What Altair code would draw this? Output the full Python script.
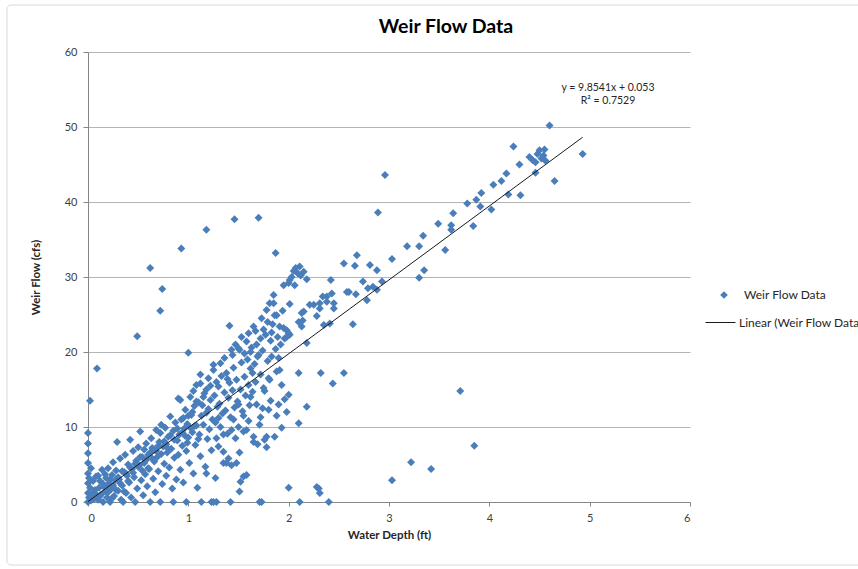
import altair as alt
import pandas as pd

# Weir readings as (water depth ft, weir flow cfs)
zero_col = [
    (0.00, 0.0), (0.00, 1.2), (0.00, 2.5), (0.00, 3.8), (0.00, 5.2), (0.00, 6.5),
    (0.00, 7.8), (0.00, 9.2), (0.01, 0.6), (0.01, 3.2), (0.02, 1.9), (0.02, 13.5),
    (0.03, 0.2), (0.03, 4.5), (0.04, 1.1), (0.05, 2.8), (0.06, 0.4), (0.07, 1.6),
    (0.08, 3.4), (0.09, 17.8), (0.09, 0.9),
]

low = [
    (0.10, 0.3), (0.10, 3.5), (0.11, 1.9), (0.12, 2.8), (0.12, 0.8), (0.13, 1.0),
    (0.14, 4.3), (0.15, 0.0), (0.15, 2.4), (0.16, 2.0), (0.17, 1.4), (0.17, 3.7),
    (0.18, 3.2), (0.19, 0.6), (0.19, 2.1), (0.20, 4.5), (0.20, 1.3), (0.21, 2.5),
    (0.22, 0.0), (0.22, 3.0), (0.23, 1.7), (0.24, 3.6), (0.24, 0.5), (0.25, 5.3),
    (0.25, 2.2), (0.26, 0.8), (0.27, 2.9), (0.28, 4.2), (0.28, 1.6), (0.29, 8.0),
    (0.30, 1.5), (0.30, 3.3), (0.31, 3.0), (0.32, 5.8), (0.32, 2.5), (0.33, 0.3),
    (0.34, 2.2), (0.34, 4.1), (0.35, 0.0), (0.36, 4.0), (0.36, 1.4), (0.37, 6.3),
    (0.38, 1.2), (0.38, 3.8), (0.39, 3.5), (0.40, 5.0), (0.40, 2.8), (0.41, 2.6),
    (0.42, 8.3), (0.42, 4.6), (0.43, 0.6), (0.44, 4.4), (0.45, 6.8), (0.45, 3.9),
    (0.46, 3.3), (0.47, 0.0), (0.47, 5.1), (0.48, 5.5), (0.49, 1.8), (0.49, 22.1),
    (0.50, 7.3), (0.50, 4.7), (0.51, 4.9), (0.52, 9.4), (0.52, 6.0), (0.53, 2.9),
    (0.54, 6.0), (0.54, 4.2), (0.55, 0.9), (0.56, 5.2), (0.56, 7.0), (0.57, 3.7),
    (0.58, 7.8), (0.58, 5.6), (0.59, 2.1), (0.60, 6.3), (0.60, 4.5), (0.61, 4.4),
    (0.62, 0.0), (0.62, 31.2), (0.62, 6.6), (0.63, 8.5), (0.64, 5.8), (0.64, 7.2),
    (0.65, 3.1), (0.66, 7.0), (0.66, 5.4), (0.67, 1.3), (0.68, 9.6), (0.68, 6.8),
    (0.69, 6.0), (0.70, 4.1), (0.70, 7.5), (0.71, 8.0), (0.72, 0.0), (0.72, 9.2),
    (0.72, 25.5), (0.73, 10.3), (0.73, 6.4), (0.74, 2.4), (0.74, 28.4), (0.75, 7.4),
    (0.76, 5.1), (0.76, 8.1), (0.77, 9.9), (0.78, 3.5), (0.78, 7.7), (0.79, 6.6),
    (0.80, 8.7), (0.80, 7.1), (0.81, 4.6), (0.82, 11.4), (0.82, 8.9), (0.83, 7.1),
    (0.84, 1.8), (0.85, 0.0), (0.85, 9.5), (0.86, 5.9), (0.86, 8.3), (0.87, 10.6),
    (0.88, 3.0), (0.89, 8.2), (0.89, 9.8), (0.90, 13.8), (0.90, 6.3), (0.91, 9.0),
    (0.92, 4.3), (0.92, 13.6), (0.93, 11.0), (0.93, 33.8), (0.94, 7.5), (0.94, 9.3),
    (0.95, 2.6), (0.95, 11.2), (0.96, 9.8), (0.97, 12.3), (0.97, 8.8), (0.98, 0.0),
    (0.98, 6.8), (0.99, 10.4), (0.99, 7.9),
]

mid = [
    (1.00, 8.6), (1.00, 19.9), (1.00, 11.5), (1.01, 5.2), (1.02, 14.0), (1.02, 9.9),
    (1.03, 11.6), (1.04, 9.3), (1.04, 12.0), (1.05, 3.8), (1.05, 14.8), (1.06, 12.8),
    (1.06, 10.1), (1.07, 7.6), (1.08, 10.2), (1.08, 13.4), (1.08, 15.6), (1.09, 1.9),
    (1.10, 13.3), (1.10, 8.4), (1.11, 9.0), (1.12, 15.8), (1.12, 6.1), (1.12, 17.0),
    (1.13, 0.0), (1.13, 11.5), (1.14, 12.9), (1.15, 10.3), (1.15, 14.0), (1.16, 14.5),
    (1.17, 4.7), (1.18, 3.8), (1.18, 11.9), (1.18, 36.3), (1.18, 15.0), (1.19, 8.4),
    (1.20, 16.5), (1.20, 12.4), (1.21, 9.7), (1.22, 13.6), (1.22, 15.5), (1.23, 0.0),
    (1.23, 6.9), (1.24, 11.0), (1.25, 18.3), (1.25, 17.6), (1.25, 0.0), (1.26, 14.2),
    (1.27, 3.2), (1.27, 10.6), (1.28, 8.5), (1.28, 0.0), (1.28, 16.0), (1.29, 12.7),
    (1.30, 7.4), (1.30, 15.4), (1.30, 11.2), (1.31, 13.1), (1.32, 10.0), (1.32, 18.5),
    (1.33, 16.8), (1.34, 11.8), (1.35, 5.2), (1.35, 6.7), (1.35, 9.0), (1.36, 14.6),
    (1.36, 19.2), (1.37, 12.2), (1.38, 17.2), (1.38, 5.2), (1.39, 9.1), (1.39, 16.4),
    (1.40, 13.9), (1.40, 5.8), (1.41, 23.5), (1.41, 15.9), (1.42, 0.0), (1.42, 11.3),
    (1.43, 20.3), (1.43, 4.9), (1.43, 9.6), (1.44, 14.9), (1.44, 19.6), (1.45, 17.9),
    (1.45, 11.0), (1.46, 12.6), (1.46, 37.7), (1.47, 8.5), (1.47, 21.0), (1.48, 16.3),
    (1.48, 5.2), (1.49, 13.4), (1.50, 20.5), (1.50, 10.0), (1.50, 13.0), (1.51, 20.3),
    (1.51, 6.6), (1.51, 1.4), (1.52, 15.0), (1.52, 2.7), (1.53, 18.6), (1.53, 22.0),
    (1.54, 12.1), (1.55, 9.4), (1.55, 3.4), (1.55, 11.5), (1.56, 16.7), (1.56, 19.8),
    (1.57, 14.2), (1.58, 21.4), (1.58, 9.6), (1.58, 3.6), (1.59, 19.0), (1.60, 22.5),
    (1.60, 15.6), (1.60, 10.8), (1.61, 12.9), (1.62, 17.8), (1.62, 20.0), (1.62, 14.0),
    (1.63, 20.6), (1.64, 14.7), (1.64, 17.2), (1.65, 23.4), (1.65, 8.7), (1.65, 8.0),
    (1.66, 18.4), (1.67, 16.0), (1.67, 22.8), (1.68, 21.0), (1.68, 13.0), (1.69, 7.7),
    (1.69, 19.4), (1.70, 19.6), (1.70, 37.9), (1.71, 10.3), (1.71, 0.0), (1.72, 11.3),
    (1.72, 17.0), (1.72, 21.8), (1.73, 24.5), (1.73, 0.0), (1.74, 20.2), (1.74, 12.5),
    (1.75, 15.2), (1.75, 23.0), (1.76, 8.3), (1.76, 14.8), (1.77, 22.3), (1.78, 25.6),
    (1.78, 8.7), (1.78, 7.3), (1.79, 18.8), (1.79, 24.0), (1.80, 16.5), (1.80, 12.3),
    (1.81, 26.5), (1.81, 16.3), (1.82, 21.5), (1.82, 13.5), (1.83, 19.4), (1.83, 22.6),
    (1.84, 23.7), (1.85, 27.6), (1.85, 26.5), (1.86, 8.7), (1.86, 24.9), (1.87, 20.4),
    (1.87, 33.2), (1.88, 24.9), (1.88, 17.4), (1.88, 11.5), (1.89, 22.0), (1.90, 19.2),
    (1.90, 13.0), (1.91, 17.6), (1.91, 23.4), (1.92, 21.0), (1.93, 15.6), (1.93, 9.9),
    (1.94, 25.5),
]

high = [
    (1.95, 28.9), (1.95, 23.2), (1.96, 21.8), (1.96, 13.7), (1.98, 22.9), (1.98, 22.0),
    (1.98, 12.0), (2.00, 29.2), (2.00, 22.5), (2.00, 14.3), (2.00, 1.9), (2.01, 29.6),
    (2.01, 26.4), (2.01, 22.3), (2.03, 30.0), (2.05, 30.8), (2.06, 28.9), (2.07, 31.2),
    (2.09, 30.5), (2.10, 24.0), (2.10, 10.5), (2.10, 17.2), (2.11, 31.4), (2.11, 0.0),
    (2.12, 30.2), (2.13, 25.2), (2.13, 23.4), (2.14, 24.2), (2.15, 25.4), (2.15, 30.7),
    (2.18, 29.7), (2.18, 21.2), (2.18, 12.7), (2.21, 26.3), (2.25, 26.3), (2.28, 24.8),
    (2.28, 2.0), (2.30, 1.8), (2.31, 26.5), (2.31, 25.8), (2.31, 1.2), (2.32, 17.2),
    (2.34, 27.4), (2.35, 23.6), (2.38, 27.4), (2.38, 26.7), (2.40, 0.0), (2.41, 23.8),
    (2.42, 29.6), (2.43, 27.8), (2.44, 15.8), (2.45, 25.8), (2.45, 26.5), (2.55, 31.8),
    (2.55, 17.2), (2.58, 28.0), (2.60, 28.0), (2.64, 23.7), (2.66, 31.5), (2.67, 27.7),
    (2.68, 32.9), (2.74, 29.4), (2.78, 26.9), (2.79, 28.5), (2.81, 31.6),
]

upper = [
    (2.84, 28.7), (2.88, 30.9), (2.88, 28.3), (2.89, 38.6), (2.93, 29.4), (2.96, 43.6),
    (3.03, 32.4), (3.03, 2.9), (3.18, 34.1), (3.22, 5.3), (3.30, 34.1), (3.30, 29.9),
    (3.34, 35.5), (3.35, 30.9), (3.42, 4.4), (3.49, 37.1), (3.56, 33.6), (3.62, 36.9),
    (3.62, 36.3), (3.64, 38.5), (3.71, 14.8), (3.78, 39.8), (3.84, 36.8), (3.85, 7.5),
    (3.87, 40.3), (3.91, 39.4), (3.92, 41.2), (4.02, 39.0), (4.04, 42.3), (4.12, 42.8),
    (4.17, 43.8), (4.19, 41.0), (4.24, 47.4), (4.30, 45.0), (4.31, 40.9), (4.40, 46.0),
    (4.43, 45.6), (4.46, 45.3), (4.46, 43.9), (4.48, 46.4), (4.50, 46.9), (4.52, 45.8),
    (4.54, 46.2), (4.55, 47.0), (4.56, 45.5), (4.60, 50.2), (4.65, 42.8), (4.93, 46.4),
]

# Linear trendline coefficients
SLOPE = 9.8541
INTERCEPT = 0.053
R_SQUARED = 0.7529

x_ticks = [0, 1, 2, 3, 4, 5, 6]
y_ticks = [0, 10, 20, 30, 40, 50, 60]

CHART_TITLE = "Weir Flow Data"
POINT_NAME = "Weir Flow Data"
TREND_NAME = "Linear (Weir Flow Data)"
FONT = "Lato"

readings = pd.DataFrame(zero_col + low + mid + high + upper, columns=["depth", "flow"])
readings["series"] = POINT_NAME

trend = pd.DataFrame({"depth": [readings["depth"].min(), readings["depth"].max()]})
trend["flow"] = SLOPE * trend["depth"] + INTERCEPT
trend["series"] = TREND_NAME

x_enc = alt.X(
    "depth:Q",
    scale=alt.Scale(domain=[0, 6], nice=False, zero=True),
    axis=alt.Axis(
        values=x_ticks, format="d", grid=False, tickSize=4, tickColor="#868686",
        domainColor="#868686", labelFont=FONT, labelFontSize=11,
        labelColor="#404040", labelPadding=6, title="Water Depth (ft)",
        titleFont=FONT, titleFontSize=11.5, titleFontWeight="bold",
        titleColor="#262626", titlePadding=6,
    ),
)
y_enc = alt.Y(
    "flow:Q",
    scale=alt.Scale(domain=[0, 60], nice=False),
    axis=alt.Axis(
        values=y_ticks, format="d", grid=True, gridColor="#b4b4b4", gridWidth=1,
        tickSize=5, tickColor="#868686", domainColor="#868686",
        labelFont=FONT, labelFontSize=11, labelColor="#404040", labelPadding=6,
        title="Weir Flow (cfs)", titleFont=FONT, titleFontSize=11.5,
        titleFontWeight="bold", titleColor="#262626", titlePadding=23,
    ),
)

points = alt.Chart(readings).mark_point(
    shape="diamond", filled=True, size=64, opacity=1
).encode(
    x=x_enc,
    y=y_enc,
    color=alt.Color(
        "series:N",
        scale=alt.Scale(domain=[POINT_NAME], range=["#4a7ebb"]),
        legend=alt.Legend(
            title=None, orient="none", legendX=630, legendY=237, padding=0,
            symbolType="diamond", symbolSize=60, labelOffset=14,
            labelFont=FONT, labelFontSize=12, labelColor="#262626",
        ),
    ),
)

trendline = alt.Chart(trend).mark_line(strokeWidth=1).encode(
    x="depth:Q",
    y="flow:Q",
    color=alt.Color(
        "series:N",
        scale=alt.Scale(domain=[TREND_NAME], range=["#1a1a1a"]),
        legend=alt.Legend(
            title=None, orient="none", legendX=617, legendY=255, padding=0,
            symbolType="stroke", symbolSize=900, symbolStrokeWidth=1,
            labelOffset=3, labelFont=FONT, labelFontSize=12,
            labelColor="#262626", labelLimit=300,
        ),
    ),
)

equation = alt.Chart(pd.DataFrame({"k": [0]})).mark_text(
    text=[f"y = {SLOPE}x + {INTERCEPT}", f"R² = {R_SQUARED}"],
    font=FONT, fontSize=10.5, color="#262626", align="center",
    baseline="top", lineHeight=13,
).encode(x=alt.value(520), y=alt.value(31))

heading = alt.Chart(pd.DataFrame({"k": [0]})).mark_text(
    text=CHART_TITLE, font=FONT, fontSize=19.5, fontWeight="bold",
    color="#000000", align="center", baseline="middle",
).encode(x=alt.value(358), y=alt.value(-25))

border = alt.Chart(pd.DataFrame({"k": [0]})).mark_rect(
    fillOpacity=0, stroke="#d9d9d9", strokeWidth=1, cornerRadius=4
).encode(
    x=alt.value(-81), x2=alt.value(790), y=alt.value(-47), y2=alt.value(513)
)

chart = (
    alt.layer(border, points, trendline, equation, heading)
    .resolve_scale(color="independent")
    .properties(
        width=602,
        height=450,
        autosize=alt.AutoSizeParams(type="none"),
        padding={"left": 88, "top": 52, "right": 168, "bottom": 67},
        background="white",
    )
    .configure_view(stroke=None)
)

chart.save("out.html", embed_options={"renderer": "svg", "actions": False})
